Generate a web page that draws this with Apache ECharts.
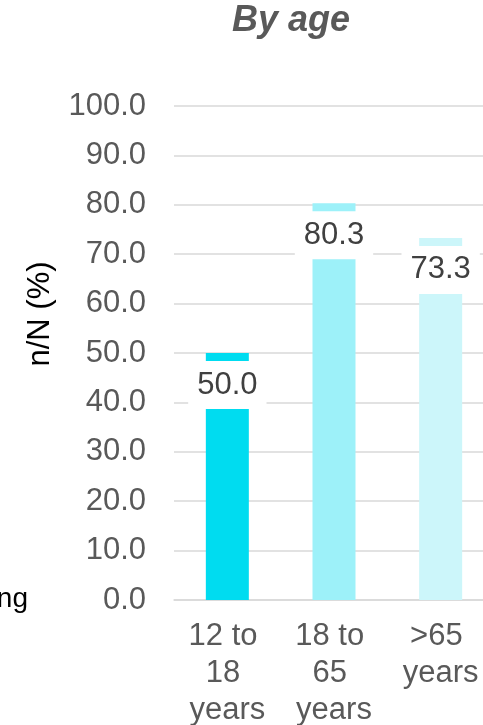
<!DOCTYPE html>
<html>
<head>
<meta charset="utf-8">
<script src="https://cdn.jsdelivr.net/npm/echarts@6/dist/echarts.min.js"></script>
<style>
  html, body { margin: 0; padding: 0; background: #fff; }
  #box01 { width: 483px; height: 725px; }
</style>
</head>
<body>
<div id="box01"></div>
<script>
// 数据
var categories = ['12 to 18 years', '18 to 65 years', '>65 years'];
var values = [50.0, 80.3, 73.3];
var barColors = ['#00DCF0', '#9DF1F9', '#CCF6FA'];
var yTicks = { min: 0, max: 100, interval: 10 };

var myChart = echarts.init(document.getElementById('box01'));

var option = {
    animation: false,
    textStyle: { fontFamily: 'Liberation Sans, Arial, sans-serif' },
    title: {
        text: 'By age',
        left: 286,
        textAlign: 'center',
        top: -2,
        textStyle: { fontSize: 36, fontWeight: 'bold', fontStyle: 'italic', color: '#595959', fontFamily: 'Liberation Sans, Arial, sans-serif' }
    },
    grid: { left: 174, width: 320, top: 106, bottom: 125, outerBoundsMode: 'none', containLabel: false },
    xAxis: {
        type: 'category',
        data: categories,
        axisTick: { show: false },
        axisLine: { lineStyle: { color: '#D9D9D9', width: 1.5 } },
        axisLabel: {
            interval: 0,
            margin: 18,
            width: 82,
            overflow: 'break',
            fontSize: 31,
            lineHeight: 37,
            color: '#595959'
        }
    },
    yAxis: {
        type: 'value',
        min: yTicks.min,
        max: yTicks.max,
        interval: yTicks.interval,
        axisLabel: {
            margin: 28,
            fontSize: 31,
            color: '#595959',
            formatter: function (v) { return v.toFixed(1); }
        },
        splitLine: { lineStyle: { color: '#D9D9D9', width: 1.5 } }
    },
    graphic: [
        {
            type: 'text',
            x: 40, y: 314,
            rotation: Math.PI / 2,
            style: { text: 'n/N (%)', fontSize: 31, fill: '#000', textAlign: 'center', textVerticalAlign: 'middle', fontFamily: 'Liberation Sans, Arial, sans-serif' }
        },
        {
            type: 'text',
            x: 28, y: 599,
            style: { text: 'ng', fontSize: 28, fill: '#000', textAlign: 'right', textVerticalAlign: 'middle', fontFamily: 'Liberation Sans, Arial, sans-serif' }
        }
    ],
    series: [{
        type: 'bar',
        barWidth: 43,
        data: values.map(function (v, i) {
            return { value: v, itemStyle: { color: barColors[i] } };
        }),
        label: {
            show: true,
            position: 'insideTop',
            distance: 8,
            fontSize: 31,
            lineHeight: 34,
            color: '#404040',
            backgroundColor: '#fff',
            padding: [7, 9],
            formatter: function (p) { return p.value.toFixed(1); }
        }
    }]
};
myChart.setOption(option);
</script>
</body>
</html>
